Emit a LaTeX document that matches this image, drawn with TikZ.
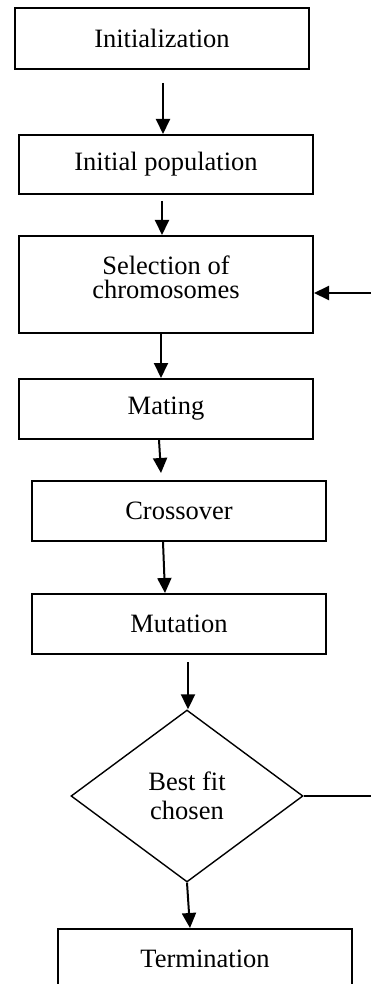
\documentclass[tikz,border=0pt]{standalone}
\usepackage{fontspec}
\setmainfont{Liberation Serif}
\usetikzlibrary{arrows.meta,shapes.geometric}
\begin{document}
\begin{tikzpicture}[x=1pt,y=1pt,
  box/.style={draw,line width=2pt,rectangle,inner sep=0pt,minimum width=294pt,font=\fontsize{26.5}{24}\selectfont},
  txt/.style={inner sep=0pt,align=center,font=\fontsize{26.5}{24}\selectfont},
  dec/.style={draw,line width=1.4pt,diamond,inner sep=0pt,minimum width=232pt,minimum height=172pt,align=center,font=\fontsize{26.5}{29}\selectfont},
  arr/.style={line width=2pt,-{Triangle[length=15pt,width=14pt]}},
  ln/.style={line width=1.4pt}]
\useasboundingbox (0,0) rectangle (371,-984);
\node[box,minimum height=61pt] (init) at (162,-38.5) {Initialization};
\node[box,minimum height=59pt] (pop) at (166,-164.5) {Initial population};
\node[box,minimum height=97pt] (sel) at (166,-284.5) {};
\node[txt] (seltxt) at (166,-277) {Selection of\\chromosomes};
\node[box,minimum height=60pt] (mat) at (166,-409) {Mating};
\node[box,minimum height=60pt] (cro) at (179,-511) {Crossover};
\node[box,minimum height=60pt] (mut) at (179,-624) {Mutation};
\node[dec] (dia) at (187,-796) {Best fit\\chosen};
\node[box,minimum height=60pt] (term) at (205,-959) {Termination};
\coordinate (fbA) at (371,-796);
\coordinate (fbB) at (371,-293);
\draw[arr] ([xshift=1pt,yshift=-13pt]init.south) -- ([xshift=-3pt]pop.north);
\draw[arr] ([xshift=-4pt,yshift=-6pt]pop.south) -- ([xshift=-4pt]sel.north);
\draw[arr] ([xshift=-5pt]sel.south) -- ([xshift=-5pt]mat.north);
\draw[arr] ([xshift=-7pt]mat.south) -- ([xshift=-18pt,yshift=7pt]cro.north);
\draw[arr] ([xshift=-16pt]cro.south) -- ([xshift=-14pt]mut.north);
\draw[arr] ([xshift=9pt,yshift=-7pt]mut.south) -- ([xshift=1pt]dia.north);
\draw[arr] (dia.south) -- ([xshift=-15pt]term.north);
\draw[ln] (dia.east) -- (fbA);
\draw[arr] (fbB) -- ([yshift=-8.5pt]sel.east);
\end{tikzpicture}
\end{document}
